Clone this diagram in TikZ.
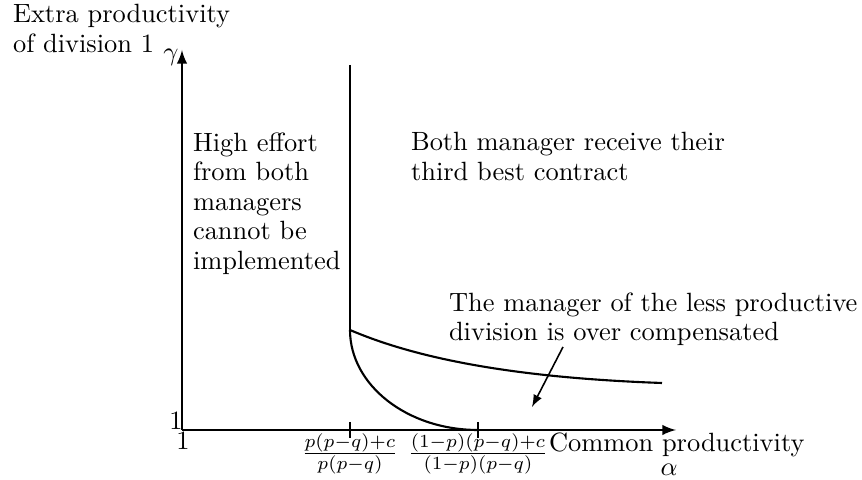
\documentclass[tikz,border=0pt]{standalone}
\usetikzlibrary{arrows}

\begin{document}
\begin{tikzpicture}[x=0.0133cm, y=-0.0133cm, line width=0.8pt, >=latex,
    testo/.style={anchor=north west, align=left, inner sep=0pt, font=\fontsize{10}{11.2}\selectfont}]

    \useasboundingbox (0,0) rectangle (862,480);

    % Definizione del comando \tacca per le tacche sull'asse
    \newcommand{\tacca}[1]{
        \draw (#1,422) -- (#1,438);
    }

    % -- Assi --
    \coordinate (O) at (182,430);
    \coordinate (ytip) at (182,50);
    \coordinate (xtip) at (676,430);
    \draw[->] (O) -- (ytip);
    \draw[->] (O) -- (xtip);

    \tacca{350}
    \tacca{478}

    % -- Frontiere --
    \coordinate (top) at (350,65);
    \coordinate (K) at (350,330);
    \coordinate (F) at (662,383);
    \coordinate (T) at (478,430);

    \draw (top) -- (K);
    \draw (K) .. controls (420,360) and (520,378) .. (F);
    \draw (K) .. controls (350,385) and (407,430) .. (T);

    % -- Etichette degli assi --
    \node[testo] (ylab) at (12,3.5) {Extra productivity\\of division 1};
    \node (gamma) at (171,57) {$\gamma$};
    \node (one y) at (176,421) {1};
    \node (one x) at (183,441) {1};
    \node (t1) at (350,454) {$\frac{p(p-q)+c}{p(p-q)}$};
    \node (t2) at (478,454) {$\frac{(1-p)(p-q)+c}{(1-p)(p-q)}$};
    \node[anchor=base west, inner sep=0pt] (xlab) at (548,452) {Common productivity};
    \node (alpha) at (669,470) {$\alpha$};

    % -- Regioni --
    \node[testo] (reg1) at (192,131.5) {High effort\\from both\\managers\\cannot be\\implemented};
    \node[testo] (reg2) at (410,131.5) {Both manager receive their\\third best contract};
    \node[testo] (reg3) at (448,291.5) {The manager of the less productive\\division is over compensated};

    % Freccia verso la regione tra le due curve
    \coordinate (Q) at (563,347);
    \coordinate (P) at (532,407);
    \draw[->, line width=0.6pt] (Q) -- (P);
\end{tikzpicture}
\end{document}
